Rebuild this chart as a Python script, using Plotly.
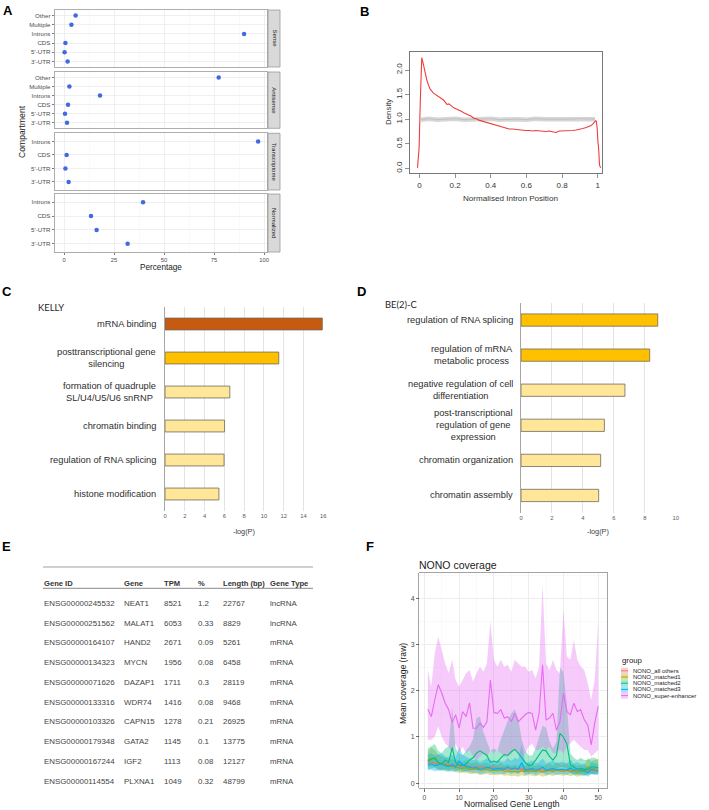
import plotly.graph_objects as go

W, H = 709, 810
FONT = "Liberation Sans, Arial, sans-serif"

# ---------------- Panel A data ----------------
A_FACETS = ["Sense", "Antisense", "Transcriptome", "Normalized"]
A_CATS6 = ["3'-UTR", "5'-UTR", "CDS", "Introns", "Multiple", "Other"]
A_CATS4 = ["3'-UTR", "5'-UTR", "CDS", "Introns"]
a_sense = [1.8, 0.3, 0.7, 90.0, 3.7, 5.8]
a_antisense = [1.5, 0.5, 2.0, 18.0, 2.7, 77.3]
a_transcriptome = [2.3, 0.7, 1.3, 97.0]
a_normalized = [31.8, 16.3, 13.5, 39.5]
A_XTICKS = [0, 25, 50, 75, 100]

# ---------------- Panel B data ----------------
b_pos = [-0.011, -0.002, 0.005, 0.013, 0.023, 0.032, 0.041, 0.051, 0.060, 0.079,
         0.094, 0.107, 0.121, 0.135, 0.154, 0.165, 0.173, 0.192, 0.205, 0.220,
         0.235, 0.248, 0.262, 0.277, 0.291, 0.305, 0.320, 0.333, 0.352, 0.371,
         0.390, 0.408, 0.427, 0.446, 0.465, 0.484, 0.503, 0.521, 0.540, 0.559,
         0.578, 0.596, 0.615, 0.634, 0.653, 0.672, 0.690, 0.709, 0.728, 0.747,
         0.766, 0.785, 0.803, 0.822, 0.841, 0.860, 0.879, 0.897, 0.916, 0.935,
         0.950, 0.963, 0.975, 0.982, 0.988, 0.992, 0.997, 1.001, 1.005, 1.010, 1.016]
b_density = [0.01, 0.41, 1.40, 2.25, 2.10, 1.93, 1.80, 1.69, 1.61, 1.53,
             1.49, 1.46, 1.42, 1.39, 1.30, 1.31, 1.29, 1.23, 1.21, 1.19,
             1.16, 1.13, 1.11, 1.08, 1.06, 1.02, 1.01, 0.98, 0.96, 0.94,
             0.92, 0.89, 0.87, 0.85, 0.83, 0.81, 0.80, 0.80, 0.79, 0.78,
             0.78, 0.77, 0.77, 0.76, 0.77, 0.76, 0.76, 0.75, 0.76, 0.75,
             0.73, 0.76, 0.76, 0.76, 0.77, 0.77, 0.78, 0.79, 0.81, 0.83,
             0.85, 0.87, 0.91, 0.95, 0.97, 0.96, 0.81, 0.55, 0.41, 0.07, 0.01]
b_null_pos = [0.008, 0.05, 0.10, 0.15, 0.20, 0.25, 0.30, 0.35, 0.40, 0.45,
              0.50, 0.55, 0.60, 0.65, 0.70, 0.75, 0.80, 0.85, 0.90, 0.95, 0.985]
b_null_density = [0.99, 1.01, 0.99, 1.0, 1.01, 0.99, 1.0, 1.0, 1.01, 0.99,
                  1.0, 1.0, 0.99, 1.01, 1.0, 1.0, 0.99, 1.0, 1.01, 1.0, 1.0]
B_XTICKS = [0, 0.2, 0.4, 0.6, 0.8, 1]
B_XTICKTEXT = ["0", "0.2", "0.4", "0.6", "0.8", "1"]
B_YTICKS = [0, 0.5, 1.0, 1.5, 2.0]
B_YTICKTEXT = ["0.0", "0.5", "1.0", "1.5", "2.0"]

# ---------------- Panel C / D data ----------------
c_title = "KELLY"
c_terms = ["mRNA binding", "posttranscriptional gene<br>silencing",
           "formation of quadruple<br>SL/U4/U5/U6 snRNP", "chromatin binding",
           "regulation of RNA splicing", "histone modification"]
c_logp = [15.9, 11.5, 6.55, 6.02, 5.97, 5.45]
d_title = "BE(2)-C"
d_terms = ["regulation of RNA splicing", "regulation of mRNA<br>metabolic process",
           "negative regulation of cell<br>differentiation",
           "post-transcriptional<br>regulation of gene<br>expression",
           "chromatin organization", "chromatin assembly"]
d_logp = [8.84, 8.32, 6.72, 5.39, 5.15, 5.02]
C_XTICKS = [0, 2, 4, 6, 8, 10, 12, 14, 16]
D_XTICKS = [0, 2, 4, 6, 8, 10]

# ---------------- Panel E data ----------------
e_headers = ["Gene ID", "Gene", "TPM", "%", "Length (bp)", "Gene Type"]
e_gene_id = ["ENSG00000245532", "ENSG00000251562", "ENSG00000164107", "ENSG00000134323",
             "ENSG00000071626", "ENSG00000133316", "ENSG00000103326", "ENSG00000179348",
             "ENSG00000167244", "ENSG00000114554"]
e_gene = ["NEAT1", "MALAT1", "HAND2", "MYCN", "DAZAP1", "WDR74", "CAPN15", "GATA2", "IGF2", "PLXNA1"]
e_tpm = ["8521", "6053", "2671", "1956", "1711", "1416", "1278", "1145", "1113", "1049"]
e_pct = ["1.2", "0.33", "0.09", "0.08", "0.3", "0.08", "0.21", "0.1", "0.08", "0.32"]
e_length = ["22767", "8829", "5261", "6458", "28119", "9468", "26925", "13775", "12127", "48799"]
e_type = ["lncRNA", "lncRNA", "mRNA", "mRNA", "mRNA", "mRNA", "mRNA", "mRNA", "mRNA", "mRNA"]

# ---------------- Panel F data ----------------
f_x = list(range(1, 51))
f_groups = ["NONO_all others", "NONO_matched1", "NONO_matched2", "NONO_matched3", "NONO_super-enhancer"]
ao_mean = [0.45, 0.46, 0.44, 0.43, 0.42, 0.41, 0.40, 0.39, 0.38, 0.37,
           0.37, 0.36, 0.36, 0.35, 0.35, 0.34, 0.34, 0.33, 0.34, 0.33,
           0.32, 0.32, 0.32, 0.31, 0.31, 0.31, 0.30, 0.31, 0.30, 0.30,
           0.29, 0.29, 0.30, 0.29, 0.28, 0.28, 0.28, 0.29, 0.28, 0.28,
           0.27, 0.27, 0.28, 0.27, 0.27, 0.27, 0.26, 0.27, 0.26, 0.26]
ao_lo = [0.42, 0.43, 0.41, 0.40, 0.39, 0.38, 0.37, 0.36, 0.35, 0.34,
         0.34, 0.33, 0.33, 0.32, 0.32, 0.31, 0.31, 0.30, 0.31, 0.30,
         0.29, 0.29, 0.29, 0.28, 0.28, 0.28, 0.27, 0.28, 0.27, 0.27,
         0.26, 0.26, 0.27, 0.26, 0.25, 0.25, 0.25, 0.26, 0.25, 0.25,
         0.24, 0.24, 0.25, 0.24, 0.24, 0.24, 0.23, 0.24, 0.23, 0.23]
ao_hi = [0.48, 0.49, 0.47, 0.46, 0.45, 0.44, 0.43, 0.42, 0.41, 0.40,
         0.40, 0.39, 0.39, 0.38, 0.38, 0.37, 0.37, 0.36, 0.37, 0.36,
         0.35, 0.35, 0.35, 0.34, 0.34, 0.34, 0.33, 0.34, 0.33, 0.33,
         0.32, 0.32, 0.33, 0.32, 0.31, 0.31, 0.31, 0.32, 0.31, 0.31,
         0.30, 0.30, 0.31, 0.30, 0.30, 0.30, 0.29, 0.30, 0.29, 0.29]
m1_mean = [0.50, 0.55, 0.52, 0.45, 0.42, 0.40, 0.38, 0.36, 0.35, 0.33,
           0.32, 0.34, 0.30, 0.30, 0.31, 0.28, 0.29, 0.30, 0.27, 0.28,
           0.27, 0.29, 0.26, 0.27, 0.25, 0.26, 0.24, 0.27, 0.25, 0.28,
           0.26, 0.25, 0.27, 0.24, 0.26, 0.28, 0.25, 0.30, 0.27, 0.26,
           0.28, 0.25, 0.27, 0.24, 0.26, 0.25, 0.35, 0.30, 0.32, 0.34]
m1_hi = [0.68, 0.78, 0.72, 0.62, 0.58, 0.55, 0.53, 0.52, 0.50, 0.47,
         0.46, 0.50, 0.44, 0.44, 0.46, 0.42, 0.43, 0.45, 0.40, 0.42,
         0.40, 0.44, 0.39, 0.41, 0.38, 0.40, 0.37, 0.42, 0.38, 0.43,
         0.40, 0.38, 0.41, 0.37, 0.40, 0.43, 0.38, 0.46, 0.41, 0.40,
         0.43, 0.38, 0.42, 0.37, 0.40, 0.38, 0.55, 0.47, 0.50, 0.53]
m1_lo = [0.34, 0.36, 0.35, 0.31, 0.29, 0.28, 0.26, 0.25, 0.24, 0.22,
         0.22, 0.23, 0.20, 0.20, 0.21, 0.18, 0.19, 0.20, 0.17, 0.18,
         0.17, 0.19, 0.16, 0.17, 0.15, 0.16, 0.14, 0.17, 0.15, 0.18,
         0.16, 0.15, 0.17, 0.14, 0.16, 0.18, 0.15, 0.19, 0.17, 0.16,
         0.18, 0.15, 0.17, 0.14, 0.16, 0.15, 0.22, 0.19, 0.20, 0.21]
m2_mean = [0.48, 0.52, 0.55, 0.45, 0.42, 0.50, 0.45, 0.77, 0.45, 0.40,
           0.38, 0.42, 0.50, 0.55, 0.65, 0.70, 0.65, 0.60, 0.45, 0.48,
           0.45, 0.55, 0.62, 0.60, 0.68, 0.73, 0.65, 0.55, 0.45, 0.38,
           0.40, 0.50, 0.62, 0.72, 0.70, 0.58, 0.50, 0.60, 1.08, 1.00,
           0.85, 0.40, 0.35, 0.30, 0.32, 0.30, 0.30, 0.35, 0.35, 0.33]
m2_hi = [0.75, 0.80, 0.85, 0.70, 0.65, 0.75, 0.80, 1.65, 0.75, 0.65,
         0.60, 0.70, 0.80, 0.95, 1.40, 1.45, 1.10, 0.90, 0.70, 0.75,
         0.70, 0.95, 1.15, 1.35, 1.50, 1.60, 1.40, 0.95, 0.70, 0.60,
         0.60, 0.75, 1.00, 1.25, 1.20, 0.90, 0.75, 0.90, 2.50, 2.40,
         1.70, 0.65, 0.55, 0.50, 0.55, 0.50, 0.50, 0.55, 0.55, 0.50]
m2_lo = [0.30, 0.32, 0.33, 0.28, 0.27, 0.30, 0.28, 0.30, 0.28, 0.25,
         0.24, 0.26, 0.28, 0.30, 0.32, 0.33, 0.30, 0.30, 0.27, 0.28,
         0.27, 0.30, 0.32, 0.30, 0.32, 0.33, 0.30, 0.28, 0.26, 0.22,
         0.24, 0.28, 0.30, 0.32, 0.30, 0.28, 0.27, 0.30, 0.35, 0.35,
         0.30, 0.22, 0.20, 0.18, 0.20, 0.18, 0.18, 0.20, 0.20, 0.20]
m3_mean = [0.40, 0.42, 0.38, 0.40, 0.42, 0.38, 0.36, 0.40, 0.35, 0.48,
           0.40, 0.37, 0.35, 0.33, 0.34, 0.30, 0.32, 0.35, 0.33, 0.30,
           0.32, 0.31, 0.30, 0.35, 0.30, 0.33, 0.30, 0.45, 0.28, 0.30,
           0.32, 0.28, 0.30, 0.35, 0.28, 0.30, 0.32, 0.28, 0.30, 0.30,
           0.28, 0.33, 0.28, 0.30, 0.27, 0.28, 0.22, 0.30, 0.28, 0.27]
m3_hi = [0.62, 0.65, 0.60, 0.62, 0.64, 0.58, 0.56, 0.62, 0.55, 0.78,
         0.62, 0.57, 0.54, 0.50, 0.52, 0.46, 0.49, 0.54, 0.50, 0.46,
         0.49, 0.47, 0.46, 0.55, 0.48, 0.55, 0.52, 0.85, 0.45, 0.46,
         0.49, 0.43, 0.46, 0.54, 0.43, 0.46, 0.49, 0.43, 0.46, 0.46,
         0.43, 0.51, 0.43, 0.46, 0.41, 0.43, 0.34, 0.46, 0.43, 0.41]
m3_lo = [0.28, 0.29, 0.26, 0.28, 0.29, 0.26, 0.25, 0.27, 0.24, 0.30,
         0.27, 0.25, 0.24, 0.22, 0.23, 0.20, 0.21, 0.23, 0.22, 0.20,
         0.21, 0.21, 0.20, 0.23, 0.20, 0.22, 0.20, 0.26, 0.18, 0.20,
         0.21, 0.18, 0.20, 0.23, 0.18, 0.20, 0.21, 0.18, 0.20, 0.20,
         0.18, 0.22, 0.18, 0.20, 0.18, 0.18, 0.14, 0.20, 0.18, 0.18]
se_mean = [1.60, 1.44, 1.80, 2.13, 1.95, 1.73, 1.59, 1.31, 1.48, 1.19,
           1.55, 1.44, 1.74, 1.19, 1.19, 1.30, 1.21, 1.33, 2.23, 1.53,
           1.51, 1.59, 1.41, 1.44, 1.33, 1.51, 1.33, 1.41, 1.48, 1.53,
           1.51, 1.15, 1.51, 2.56, 1.37, 1.41, 1.51, 1.15, 1.33, 1.95,
           1.55, 1.48, 1.73, 1.55, 1.59, 1.37, 1.26, 0.83, 1.30, 1.66]
se_hi = [2.45, 2.09, 2.81, 3.17, 2.88, 2.59, 2.38, 2.67, 2.23, 2.09,
         2.23, 2.38, 2.45, 2.20, 2.38, 2.52, 2.41, 2.59, 3.50, 2.67,
         2.52, 2.67, 2.52, 2.56, 2.41, 2.67, 2.59, 2.52, 2.52, 2.41,
         2.45, 2.27, 2.52, 4.29, 2.59, 2.45, 2.67, 2.45, 2.38, 3.75,
         2.74, 2.67, 3.10, 2.67, 2.52, 2.45, 2.16, 1.80, 2.23, 3.50]
se_lo = [0.94, 0.94, 1.01, 1.23, 1.01, 0.86, 0.79, 0.65, 0.86, 0.65,
         0.79, 0.65, 0.72, 0.58, 0.50, 0.58, 0.65, 0.58, 0.72, 0.65,
         0.72, 0.65, 0.58, 0.58, 0.65, 0.72, 0.65, 0.58, 0.65, 0.79,
         0.86, 0.72, 0.72, 0.79, 0.72, 0.79, 0.65, 0.65, 0.72, 0.65,
         0.79, 0.86, 0.94, 0.86, 0.79, 0.72, 0.72, 0.58, 0.65, 0.72]
F_XTICKS = [0, 10, 20, 30, 40, 50]
F_YTICKS = [0, 1, 2, 3, 4]

# ---------------- helpers ----------------
def px_x(p):
    return p / W


def px_y(p):
    return 1 - p / H


def hexa(h, a):
    h = h.lstrip("#")
    return "rgba(%d,%d,%d,%.3f)" % (int(h[0:2], 16), int(h[2:4], 16), int(h[4:6], 16), a)


def akey(kind, i):
    return kind + "axis" + ("" if i == 1 else str(i))


def aref(kind, i):
    return kind + ("" if i == 1 else str(i))


fig = go.Figure()
layout = {}
annotations = []
shapes = []


def ann(text, x, y, size, color="#333333", xanchor="center", yanchor="middle",
        angle=0, family=FONT, align="center", xref="paper", yref="paper"):
    annotations.append(dict(
        text=text, x=px_x(x) if xref == "paper" else x, y=px_y(y) if yref == "paper" else y,
        xref=xref, yref=yref, xanchor=xanchor, yanchor=yanchor, textangle=angle,
        showarrow=False, align=align, borderpad=0,
        font=dict(size=size, color=color, family=family)))


# ---------------- Panel A ----------------
a_panels = [(A_CATS6, a_sense, 10, 67), (A_CATS6, a_antisense, 72, 128.3),
            (A_CATS4, a_transcriptome, 133.3, 190), (A_CATS4, a_normalized, 194, 252)]
for i, (cats, vals, top, bot) in enumerate(a_panels, start=1):
    fig.add_trace(go.Scatter(x=vals, y=cats, mode="markers",
                             marker=dict(color="#4169E1", size=4.5),
                             xaxis=aref("x", i), yaxis=aref("y", i), hoverinfo="skip"))
    last = i == len(a_panels)
    layout[akey("x", i)] = dict(
        domain=[px_x(55), px_x(267.5)], anchor=aref("y", i), range=[-4.5, 101.7],
        tickmode="array", tickvals=A_XTICKS, showticklabels=last,
        ticks="outside" if last else "", ticklen=2.5, tickcolor="#444", tickwidth=0.7,
        tickfont=dict(size=5.8, color="#4D4D4D"),
        showgrid=True, gridcolor="#EBEBEB", gridwidth=0.8,
        minor=dict(tickvals=[12.5, 37.5, 62.5, 87.5], showgrid=True, gridcolor="#F4F4F4", gridwidth=0.5),
        zeroline=False, showline=True, mirror=True, linecolor="#9A9A9A", linewidth=0.8)
    layout[akey("y", i)] = dict(
        domain=[px_y(bot), px_y(top)], anchor=aref("x", i), type="category",
        categoryorder="array", categoryarray=cats, range=[-0.6, len(cats) - 0.4],
        ticks="outside", ticklen=2.5, tickcolor="#444", tickwidth=0.7,
        tickfont=dict(size=6.2, color="#4D4D4D"),
        showgrid=True, gridcolor="#EBEBEB", gridwidth=0.8, zeroline=False,
        showline=True, mirror=True, linecolor="#9A9A9A", linewidth=0.8)
    shapes.append(dict(type="rect", xref="paper", yref="paper", x0=px_x(268), x1=px_x(280),
                       y0=px_y(bot), y1=px_y(top), fillcolor="#D9D9D9",
                       line=dict(color="#9A9A9A", width=0.8), layer="above"))
    ann(A_FACETS[i - 1], 274, (top + bot) / 2, 6.0, color="#1A1A1A", angle=90)

ann("Compartment", 22, 132, 8.6, color="#1A1A1A", angle=-90)
ann("Percentage", 161, 267, 8.2, color="#1A1A1A")

# ---------------- Panel B ----------------
fig.add_trace(go.Scatter(x=b_null_pos, y=b_null_density, mode="lines",
                         line=dict(color="#D6D6D6", width=4.5),
                         xaxis="x5", yaxis="y5", hoverinfo="skip"))
fig.add_trace(go.Scatter(x=b_null_pos, y=b_null_density, mode="lines",
                         line=dict(color="#BDBDBD", width=0.8),
                         xaxis="x5", yaxis="y5", hoverinfo="skip"))
fig.add_trace(go.Scatter(x=b_pos, y=b_density, mode="lines",
                         line=dict(color="#F03C3C", width=1.1),
                         xaxis="x5", yaxis="y5", hoverinfo="skip"))
layout["xaxis5"] = dict(domain=[px_x(410), px_x(602)], anchor="y5", range=[-0.053, 1.024],
                        tickmode="array", tickvals=B_XTICKS, ticktext=B_XTICKTEXT,
                        ticks="outside", ticklen=4, tickcolor="#777", tickwidth=0.8,
                        tickfont=dict(size=8, color="#333"), showgrid=False, zeroline=False,
                        showline=True, mirror=True, linecolor="#777", linewidth=1)
layout["yaxis5"] = dict(domain=[px_y(173), px_y(52)], anchor="x5", range=[-0.095, 2.366],
                        tickmode="array", tickvals=B_YTICKS, ticktext=B_YTICKTEXT, tickangle=-90,
                        ticks="outside", ticklen=4, tickcolor="#777", tickwidth=0.8,
                        tickfont=dict(size=8, color="#333"), showgrid=False, zeroline=False,
                        showline=True, mirror=True, linecolor="#777", linewidth=1)
ann("Density", 388, 112, 7.9, color="#333", angle=-90)
ann("Normalised Intron Position", 510, 198, 8.1, color="#333")

# ---------------- Panels C and D ----------------
C_COLORS = ["#C55A11", "#FFC000", "#FFE699", "#FFE699", "#FFE699", "#FFE699"]
D_COLORS = ["#FFC000", "#FFC000", "#FFE699", "#FFE699", "#FFE699", "#FFE699"]
bar_panels = [
    (6, c_terms, c_logp, C_COLORS, (165, 323.3), (307, 511), [0, 16], C_XTICKS, 157, c_title, 37, 307),
    (7, d_terms, d_logp, D_COLORS, (521, 675.7), (302.5, 513), [0, 10], D_XTICKS, 513.5, d_title, 384, 304),
]
for idx, terms, vals, cols, (x0, x1), (y0, y1), xr, xt, lab_x, title, tx, ty in bar_panels:
    fig.add_trace(go.Bar(x=vals, y=list(range(len(terms))), orientation="h", width=0.35,
                         marker=dict(color=cols, line=dict(color="#6E6A5A", width=0.8)),
                         xaxis=aref("x", idx), yaxis=aref("y", idx), hoverinfo="skip"))
    layout[akey("x", idx)] = dict(domain=[px_x(x0), px_x(x1)], anchor=aref("y", idx), range=xr,
                                  tickmode="array", tickvals=xt, ticks="",
                                  tickfont=dict(size=5.8, color="#595959"),
                                  showgrid=True, gridcolor="#E3E3E3", gridwidth=1,
                                  zeroline=False, showline=False)
    layout[akey("y", idx)] = dict(domain=[px_y(y1), px_y(y0)], anchor=aref("x", idx),
                                  range=[len(terms) - 0.5, -0.5], showticklabels=False,
                                  showgrid=False, zeroline=False, ticks="",
                                  showline=True, linecolor="#A6A6A6", linewidth=1.3)
    for k, t in enumerate(terms):
        ann(t, lab_x, k, 9.3, color="#2E2E2E", xanchor="right", yref=aref("y", idx))
    ann(title, tx, ty, 9.4, color="#262626", xanchor="left", family="Lato, Open Sans, sans-serif")
    ann("-log(P)", (x0 + x1) / 2, 531, 7.3, color="#404040")

# ---------------- Panel E (table) ----------------
E_COLS = [43.3, 123.3, 162.7, 196.7, 221.7, 269.3]
E_HEADER_Y = 583
E_ROW0 = 603.3
E_ROWSTEP = 19.75
shapes.append(dict(type="line", xref="paper", yref="paper", x0=px_x(43), x1=px_x(313),
                   y0=px_y(567), y1=px_y(567), line=dict(color="#A0A0A0", width=1)))
shapes.append(dict(type="line", xref="paper", yref="paper", x0=px_x(43), x1=px_x(313),
                   y0=px_y(588.3), y1=px_y(588.3), line=dict(color="#6A6A6A", width=0.8)))
for c, htxt in enumerate(e_headers):
    ann("<b>" + htxt + "</b>", E_COLS[c], E_HEADER_Y, 7.6, color="#333", xanchor="left")
for r in range(len(e_gene_id)):
    row = [e_gene_id[r], e_gene[r], e_tpm[r], e_pct[r], e_length[r], e_type[r]]
    for c, val in enumerate(row):
        ann(val, E_COLS[c], E_ROW0 + r * E_ROWSTEP, 7.9, color="#444", xanchor="left")

# ---------------- Panel F ----------------
F_COLORS = ["#F8766D", "#A3A500", "#00BF7D", "#00B0F6", "#E76BF3"]
f_series = [(ao_mean, ao_lo, ao_hi), (m1_mean, m1_lo, m1_hi), (m2_mean, m2_lo, m2_hi),
            (m3_mean, m3_lo, m3_hi), (se_mean, se_lo, se_hi)]
for (mean, lo, hi), col in zip(f_series, F_COLORS):
    fig.add_trace(go.Scatter(x=f_x, y=lo, mode="lines", line=dict(width=0, color=col),
                             xaxis="x8", yaxis="y8", hoverinfo="skip"))
    fig.add_trace(go.Scatter(x=f_x, y=hi, mode="lines", line=dict(width=0, color=col),
                             fill="tonexty", fillcolor=hexa(col, 0.36),
                             xaxis="x8", yaxis="y8", hoverinfo="skip"))
for (mean, lo, hi), col in zip(f_series, F_COLORS):
    fig.add_trace(go.Scatter(x=f_x, y=mean, mode="lines", line=dict(width=1.1, color=col),
                             xaxis="x8", yaxis="y8", hoverinfo="skip"))
layout["xaxis8"] = dict(domain=[px_x(419.3), px_x(606.7)], anchor="y8", range=[-1.45, 52.45],
                        tickmode="array", tickvals=F_XTICKS, ticks="outside", ticklen=2.5,
                        tickcolor="#333", tickwidth=0.7, tickfont=dict(size=6.6, color="#4D4D4D"),
                        showgrid=True, gridcolor="#EBEBEB", gridwidth=0.9,
                        minor=dict(tickvals=[5, 15, 25, 35, 45], showgrid=True, gridcolor="#F3F3F3", gridwidth=0.5),
                        zeroline=False, showline=True, mirror=True, linecolor="#8C8C8C", linewidth=0.8)
layout["yaxis8"] = dict(domain=[px_y(788.3), px_y(573.3)], anchor="x8", range=[-0.11, 4.54],
                        tickmode="array", tickvals=F_YTICKS, ticks="outside", ticklen=2.5,
                        tickcolor="#333", tickwidth=0.7, tickfont=dict(size=7, color="#4D4D4D"),
                        showgrid=True, gridcolor="#EBEBEB", gridwidth=0.9,
                        minor=dict(tickvals=[0.5, 1.5, 2.5, 3.5, 4.5], showgrid=True, gridcolor="#F3F3F3", gridwidth=0.5),
                        zeroline=False, showline=True, mirror=True, linecolor="#8C8C8C", linewidth=0.8)
ann("NONO coverage", 418, 565, 10.5, color="#1A1A1A", xanchor="left")
ann("Mean coverage (raw)", 403, 684, 8.6, color="#1A1A1A", angle=-90)
ann("Normalised Gene Length", 512, 804.3, 8.6, color="#1A1A1A")
# legend
ann("group", 620.5, 660.5, 7.8, color="#1A1A1A", xanchor="left")
for k, (g, col) in enumerate(zip(f_groups, F_COLORS)):
    yc = 670.8 + k * 6.2
    shapes.append(dict(type="rect", xref="paper", yref="paper", x0=px_x(621), x1=px_x(628),
                       y0=px_y(yc + 3.1), y1=px_y(yc - 3.1), fillcolor=hexa(col, 0.36),
                       line=dict(width=0)))
    shapes.append(dict(type="line", xref="paper", yref="paper", x0=px_x(621), x1=px_x(628),
                       y0=px_y(yc), y1=px_y(yc), line=dict(color=col, width=1)))
    ann(g, 631.5, yc, 6.0, color="#1A1A1A", xanchor="left")

# ---------------- panel letters ----------------
for letter, lx, ly in [("A", 2, 2), ("B", 359, 3), ("C", 0.5, 282.5), ("D", 355.5, 282.5),
                       ("E", 1, 537.5), ("F", 365, 537.5)]:
    ann("<b>" + letter + "</b>", lx, ly, 13, color="#000", xanchor="left", yanchor="top")

fig.update_layout(
    width=W, height=H, margin=dict(l=0, r=0, t=0, b=0, autoexpand=False),
    paper_bgcolor="white", plot_bgcolor="white", showlegend=False,
    font=dict(family=FONT), bargap=0, annotations=annotations, shapes=shapes, **layout)

fig.write_html("out.html", config={"displayModeBar": False, "staticPlot": True},
               post_script="document.body.style.margin='0';")
